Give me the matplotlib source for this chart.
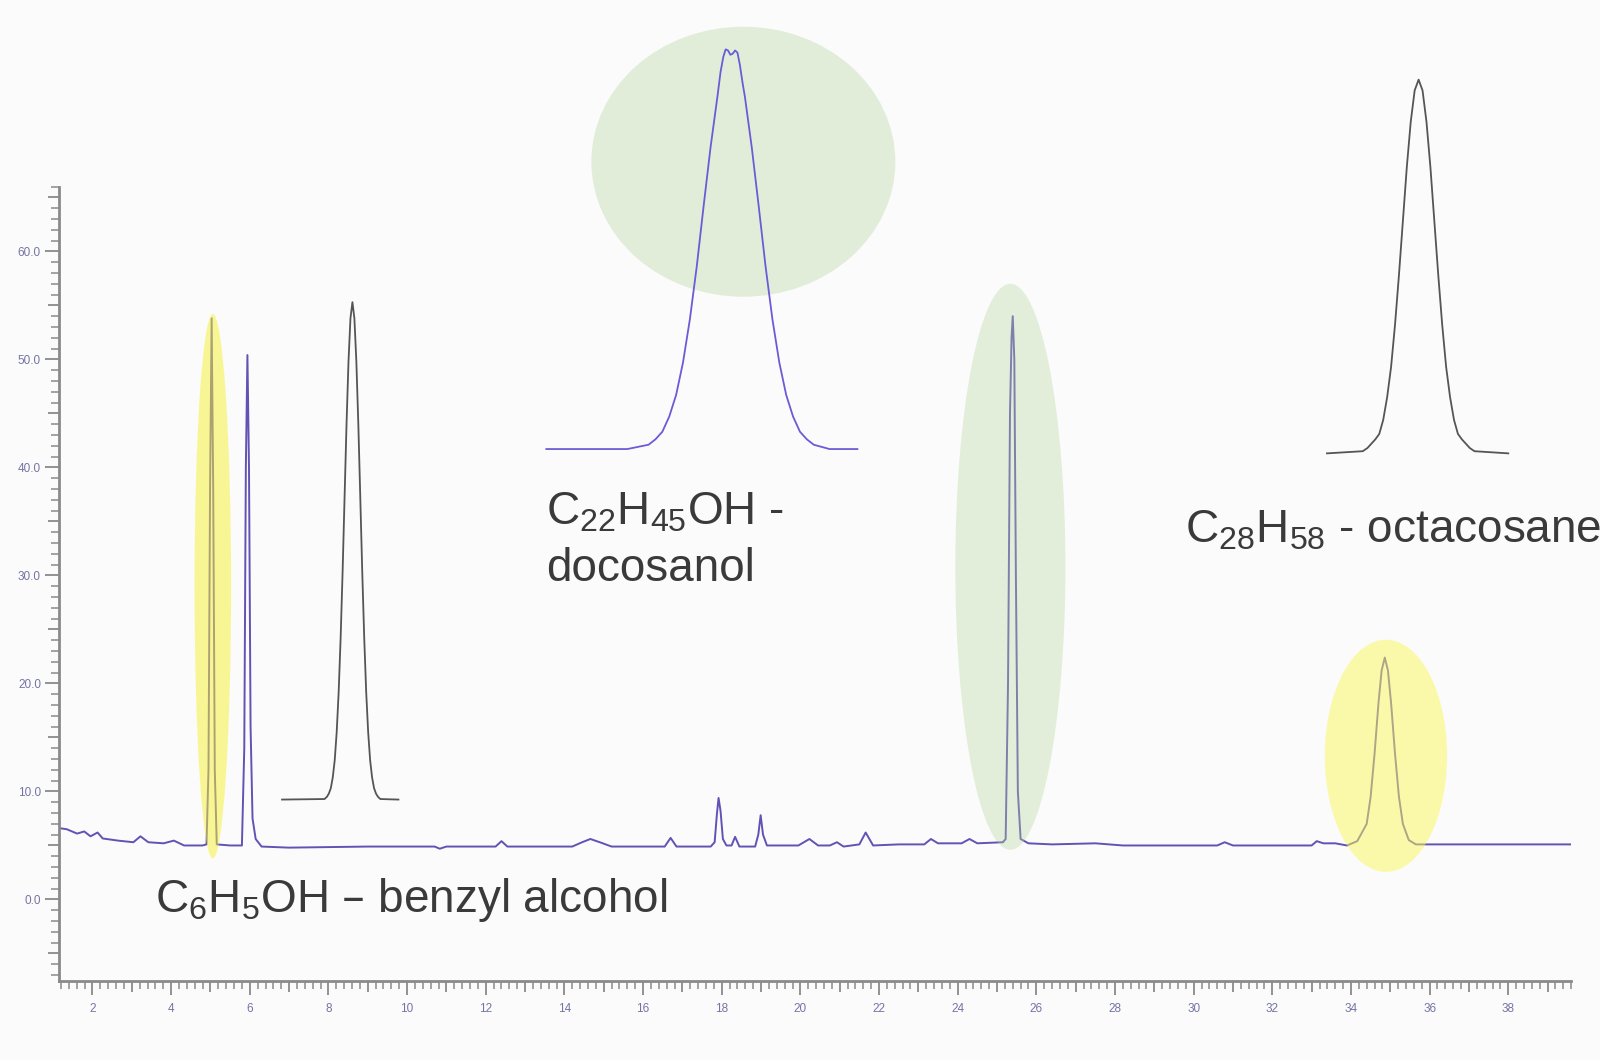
import matplotlib
matplotlib.use("Agg")
import matplotlib.pyplot as plt
from matplotlib.patches import Ellipse
from matplotlib.ticker import MultipleLocator, FuncFormatter

# main chromatogram trace (retention time, min / signal)
rt = [1.17, 1.35, 1.61, 1.79, 1.95, 2.13, 2.26, 2.65, 3.04, 3.22, 3.42, 3.81, 4.07, 4.33, 4.80,
      4.90, 4.95, 4.99, 5.03, 5.07, 5.11, 5.16, 5.50,
      5.80, 5.86, 5.90, 5.94, 5.98, 6.02, 6.07, 6.15, 6.30,
      7.00, 9.00, 10.70, 10.83, 11.00, 12.25, 12.40, 12.55, 14.20, 14.45, 14.66, 14.90, 15.20,
      16.55, 16.70, 16.85,
      17.72, 17.82, 17.88, 17.92, 17.97, 18.03, 18.12, 18.25, 18.34, 18.45,
      18.85, 18.93, 18.99, 19.05, 19.15,
      19.95, 20.23, 20.45, 20.75, 20.93, 21.10, 21.50, 21.66, 21.85, 22.50, 23.15, 23.32, 23.50,
      24.10, 24.30, 24.50, 25.15,
      25.22, 25.28, 25.33, 25.37, 25.40, 25.44, 25.48, 25.53, 25.60, 25.80,
      26.40, 27.50, 28.20, 30.60, 30.79, 31.00, 33.00, 33.13, 33.30, 33.60, 33.90, 34.16,
      34.40, 34.50, 34.60, 34.70, 34.78, 34.86, 34.94, 35.02, 35.12, 35.22, 35.32, 35.47, 35.65,
      39.60]
signal = [6.6, 6.5, 6.1, 6.3, 5.85, 6.2, 5.65, 5.45, 5.3, 5.85, 5.3, 5.2, 5.45, 5.0, 5.0,
          5.1, 12, 38, 53.8, 38, 12, 5.1, 5.0,
          5.0, 14, 40, 50.4, 40, 16, 7.5, 5.6, 4.9,
          4.8, 4.9, 4.9, 4.7, 4.9, 4.9, 5.4, 4.9, 4.9, 5.3, 5.6, 5.3, 4.9,
          4.9, 5.7, 4.9,
          4.9, 5.3, 8.0, 9.4, 8.2, 5.6, 5.0, 5.0, 5.8, 4.9,
          4.9, 6.0, 7.8, 6.0, 5.0,
          5.0, 5.6, 5.0, 5.0, 5.3, 4.9, 5.1, 6.2, 5.0, 5.1, 5.1, 5.6, 5.2,
          5.2, 5.6, 5.2, 5.3,
          5.6, 20, 45, 52, 54.0, 50, 30, 10, 5.6, 5.2,
          5.1, 5.2, 5.0, 5.0, 5.3, 5.0, 5.0, 5.4, 5.2, 5.2, 5.0, 5.4,
          7.0, 9.5, 13.5, 18.2, 21.2, 22.4, 21.2, 18.2, 13.5, 9.5, 7.0, 5.5, 5.1,
          5.1]

# magnified inset of the benzyl alcohol peak
benzyl_x = [6.82, 7.90, 7.96, 8.01, 8.06, 8.11, 8.16, 8.21, 8.26, 8.31, 8.36, 8.41, 8.46,
            8.51, 8.56, 8.61, 8.66, 8.71, 8.76, 8.81, 8.86, 8.91, 8.96, 9.01, 9.06,
            9.11, 9.16, 9.21, 9.26, 9.32, 9.78]
benzyl_y = [9.25, 9.3, 9.5, 9.8, 10.3, 11.3, 12.9, 15.5, 19.2, 24.2, 30.3, 37.2, 44.0,
            49.8, 53.8, 55.3, 53.8, 49.8, 44.0, 37.2, 30.3, 24.2, 19.2, 15.5, 12.9,
            11.3, 10.3, 9.8, 9.5, 9.3, 9.25]

# magnified inset of the docosanol peak
docos_x = [13.54, 15.60, 16.14, 16.315, 16.49, 16.665, 16.84, 17.015, 17.19, 17.365, 17.54,
           17.715, 17.89, 17.97, 18.04, 18.10, 18.16, 18.22, 18.28, 18.34, 18.40, 18.46,
           18.53, 18.59, 18.765, 18.94, 19.115, 19.29, 19.465, 19.64, 19.815, 19.99,
           20.165, 20.34, 20.74, 21.45]
docos_y = [41.7, 41.7, 42.1, 42.6, 43.3, 44.7, 46.7, 49.7, 53.7, 58.6, 64.2,
           69.6, 74.3, 76.6, 78.0, 78.7, 78.6, 78.2, 78.3, 78.6, 78.4, 77.3,
           75.6, 74.3, 69.6, 64.2, 58.6, 53.7, 49.7, 46.7, 44.7, 43.3,
           42.6, 42.1, 41.7, 41.7]

# magnified inset of the octacosane peak
octa_x = [33.39, 34.30, 34.42, 34.52, 34.62, 34.72, 34.82, 34.92, 35.02, 35.12, 35.22,
          35.32, 35.42, 35.52, 35.62, 35.72, 35.82, 35.92, 36.02, 36.12, 36.22, 36.32,
          36.42, 36.52, 36.62, 36.72, 36.82, 36.92, 37.02, 37.14, 38.00]
octa_y = [41.3, 41.5, 41.8, 42.2, 42.6, 43.1, 44.4, 46.5, 49.3, 53.2, 57.8,
          62.8, 67.8, 72.0, 74.9, 75.9, 74.9, 72.0, 67.8, 62.8, 57.8, 53.2,
          49.3, 46.5, 44.4, 43.1, 42.6, 42.2, 41.8, 41.5, 41.3]

# highlight ellipses: (centre x, centre y, width, height)
green_marks = [(18.55, 68.3, 7.73, 25.0), (25.34, 30.8, 2.80, 52.4)]
yellow_marks = [(5.06, 29.0, 0.93, 50.4), (34.89, 13.3, 3.11, 21.5)]
yellow_colors = ["#f7f131", "#f9f959"]

labels = ["C$_{6}$H$_{5}$OH \u2013 benzyl alcohol",
          "C$_{22}$H$_{45}$OH -",
          "docosanol",
          "C$_{28}$H$_{58}$ - octacosane"]

plt.rcParams["font.family"] = ["Liberation Sans", "DejaVu Sans"]
plt.rcParams["mathtext.default"] = "regular"

bg = "#fbfbfb"
fig = plt.figure(figsize=(16, 10.6), dpi=100, facecolor=bg)
ax = fig.add_axes([0.0369, 0.075, 0.9451, 0.749])
ax.set_facecolor(bg)

# big green ellipse behind the docosanol inset (opaque)
cx, cy, w, h = green_marks[0]
ax.add_patch(Ellipse((cx, cy), w, h, facecolor="#e2edd9", edgecolor="none",
                     zorder=1, clip_on=False))

ax.plot(rt, signal, color="#6252b4", lw=1.4, zorder=2)

# highlights laid over the trace
cx, cy, w, h = green_marks[1]
ax.add_patch(Ellipse((cx, cy), w, h, facecolor="#b4d69d", edgecolor="none",
                     alpha=0.35, zorder=3))
for (cx, cy, w, h), col in zip(yellow_marks, yellow_colors):
    ax.add_patch(Ellipse((cx, cy), w, h, facecolor=col, edgecolor="none",
                         alpha=0.5, zorder=3))

ax.plot(benzyl_x, benzyl_y, color="#555555", lw=1.3, zorder=4)
ax.plot(docos_x, docos_y, color="#6b5bd6", lw=1.3, zorder=4, clip_on=False)
ax.plot(octa_x, octa_y, color="#555555", lw=1.3, zorder=4, clip_on=False)

ax.set_xlim(1.15, 39.6)
ax.set_ylim(-7.5, 66)

for s in ["top", "right"]:
    ax.spines[s].set_visible(False)
for s in ["left", "bottom"]:
    ax.spines[s].set_color("#8a8a8a")
    ax.spines[s].set_linewidth(2)

ax.xaxis.set_major_locator(MultipleLocator(1))
ax.xaxis.set_minor_locator(MultipleLocator(0.2))
ax.yaxis.set_major_locator(MultipleLocator(5))
ax.yaxis.set_minor_locator(MultipleLocator(1))
ax.xaxis.set_major_formatter(FuncFormatter(
    lambda v, p: f"{v:.0f}" if round(v) % 2 == 0 else ""))
ax.yaxis.set_major_formatter(FuncFormatter(
    lambda v, p: f"{v:.1f}" if round(v) % 10 == 0 else ""))

tick_col = "#8a8a8a"
ax.tick_params(which="major", length=10, width=1.3, color=tick_col,
               labelsize=8.5, labelcolor="#7474a4")
ax.tick_params(axis="x", which="major", pad=6)
ax.tick_params(axis="y", which="major", pad=3)
ax.tick_params(which="minor", length=6, width=1.1, color=tick_col)

# odd x / 5-step y ticks are a middle length
fig.canvas.draw()
for t in ax.xaxis.get_major_ticks():
    if round(t.get_loc()) % 2 != 0:
        t.tick1line.set_markersize(8)
for t in ax.yaxis.get_major_ticks():
    if round(t.get_loc()) % 10 != 0:
        t.tick1line.set_markersize(8)

txt = dict(fontsize=33, color="#3a3a3a", va="baseline", ha="left")
fig.text(155 / 1600, 148 / 1060, labels[0], **txt)
fig.text(546 / 1600, 536 / 1060, labels[1], **txt)
fig.text(546 / 1600, 479 / 1060, labels[2], **txt)
fig.text(1185 / 1600, 518 / 1060, labels[3], **txt)

fig.savefig("out.png", dpi=100, facecolor=bg)
